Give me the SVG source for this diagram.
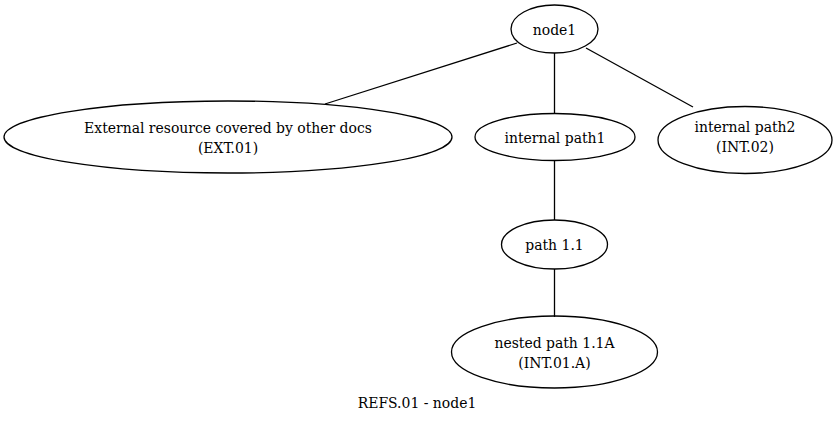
<svg xmlns="http://www.w3.org/2000/svg" width="837" height="425" viewBox="0 0 837 425">
<style>
.n ellipse{fill:none;stroke:#000;stroke-width:1.3}
text{font-family:"DejaVu Serif Condensed","DejaVu Serif","Liberation Serif",serif;font-stretch:condensed;font-size:15.5px;fill:#000;text-anchor:middle}
#edges line{stroke:#000;stroke-width:1.3}
</style>
<rect width="837" height="425" fill="#fff"/>
<g id="edges">
<line x1="517" y1="43" x2="325" y2="104"/>
<line x1="554.5" y1="53" x2="554.5" y2="113"/>
<line x1="586" y1="48" x2="693" y2="107"/>
<line x1="554.5" y1="160" x2="554.5" y2="220"/>
<line x1="554.5" y1="269" x2="554.5" y2="317"/>
</g>
<g id="node1" class="n"><ellipse cx="554.5" cy="29" rx="43.5" ry="24"/><text x="554.5" y="34.5">node1</text></g>
<g id="ext01" class="n"><ellipse cx="228" cy="137" rx="224" ry="36"/><text x="228" y="133">External resource covered by other docs</text><text x="228" y="153">(EXT.01)</text></g>
<g id="path1" class="n"><ellipse cx="555" cy="137" rx="80" ry="23.5"/><text x="555" y="142.5">internal path1</text></g>
<g id="path2" class="n"><ellipse cx="745" cy="140" rx="87" ry="33.5"/><text x="745" y="132">internal path2</text><text x="745" y="152">(INT.02)</text></g>
<g id="path11" class="n"><ellipse cx="554.5" cy="244.5" rx="53" ry="24.5"/><text x="554.5" y="250">path 1.1</text></g>
<g id="nested" class="n"><ellipse cx="554.5" cy="352" rx="103" ry="36"/><text x="554.5" y="348">nested path 1.1A</text><text x="554.5" y="368">(INT.01.A)</text></g>
<text x="417" y="408">REFS.01 - node1</text>
</svg>
